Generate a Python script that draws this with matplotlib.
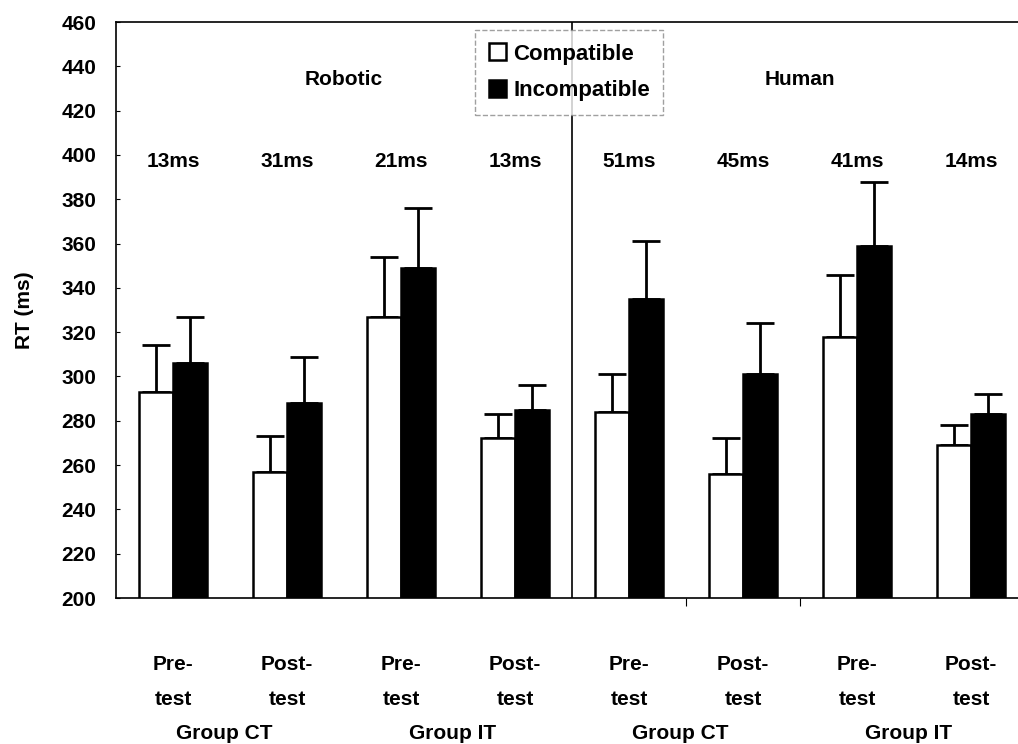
import numpy as np
import matplotlib
matplotlib.use("Agg")
from matplotlib import pyplot as plt

plt.rcParams['font.family'] = ['Liberation Sans', 'DejaVu Sans']
plt.rcParams['font.weight'] = 'bold'

# data
sessions = ["Pre-\ntest", "Post-\ntest"] * 4
groups = ["Group CT", "Group IT", "Group CT", "Group IT"]
conditions = ["Robotic", "Human"]
compatible = [293, 257, 327, 272, 284, 256, 318, 269]
compatible_err = [21, 16, 27, 11, 17, 16, 28, 9]
incompatible = [306, 288, 349, 285, 335, 301, 359, 283]
incompatible_err = [21, 21, 27, 11, 26, 23, 29, 9]
effects = ["13ms", "31ms", "21ms", "13ms", "51ms", "45ms", "41ms", "14ms"]

x = np.arange(len(sessions))
w = 0.30
fs = 15

fig = plt.figure(figsize=(10.18, 7.44), dpi=100)
ax = fig.add_axes([116 / 1018, 146 / 744, 912 / 1018, 576 / 744])

ax.bar(x - w / 2, compatible, w, color="white", edgecolor="black",
       linewidth=1.8, label="Compatible", zorder=2)
ax.bar(x + w / 2, incompatible, w, color="black", edgecolor="black",
       linewidth=1.8, label="Incompatible", zorder=2)
ax.errorbar(x - w / 2, compatible, yerr=[np.zeros(8), compatible_err], fmt="none",
            ecolor="black", elinewidth=2, capsize=10, capthick=2, zorder=1)
ax.errorbar(x + w / 2, incompatible, yerr=[np.zeros(8), incompatible_err], fmt="none",
            ecolor="black", elinewidth=2, capsize=10, capthick=2, zorder=1)

ax.set_ylim(200, 460)
ax.set_xlim(-0.5, 7.5)
ax.set_yticks(range(200, 461, 20))
ax.set_ylabel("RT (ms)", fontsize=fs, fontweight="bold", labelpad=20)
ax.tick_params(axis="y", labelsize=fs, direction="in", length=3, pad=14)
ax.set_xticks([4.5, 5.5])
ax.set_xticklabels([])
ax.tick_params(axis="x", direction="out", length=6)

for s in ["top", "left", "bottom"]:
    ax.spines[s].set_linewidth(1.2)
ax.spines["right"].set_visible(False)

ax.axvline(3.5, color="black", linewidth=1.2)

for xi, e in zip(x, effects):
    ax.text(xi, 397, e, ha="center", va="center", fontsize=fs)
ax.text(1.5, 434, conditions[0], ha="center", va="center", fontsize=fs)
ax.text(5.5, 434, conditions[1], ha="center", va="center", fontsize=fs)

for xi, s in zip(x, sessions):
    ax.text(xi, 162, s, ha="center", va="center", fontsize=fs, linespacing=2.1)
for gi, g in enumerate(groups):
    ax.text(2 * gi + 0.45, 139, g, ha="center", va="center", fontsize=fs)

leg = ax.legend(loc="upper left", bbox_to_anchor=(0.394, 0.986), borderaxespad=0,
                fontsize=fs + 1, frameon=True, fancybox=False, edgecolor="#888888",
                handlelength=0.8, handleheight=0.8, handletextpad=0.3,
                labelspacing=0.7, borderpad=0.6)
leg.get_frame().set_linestyle("--")

fig.savefig("out.png", dpi=100)
